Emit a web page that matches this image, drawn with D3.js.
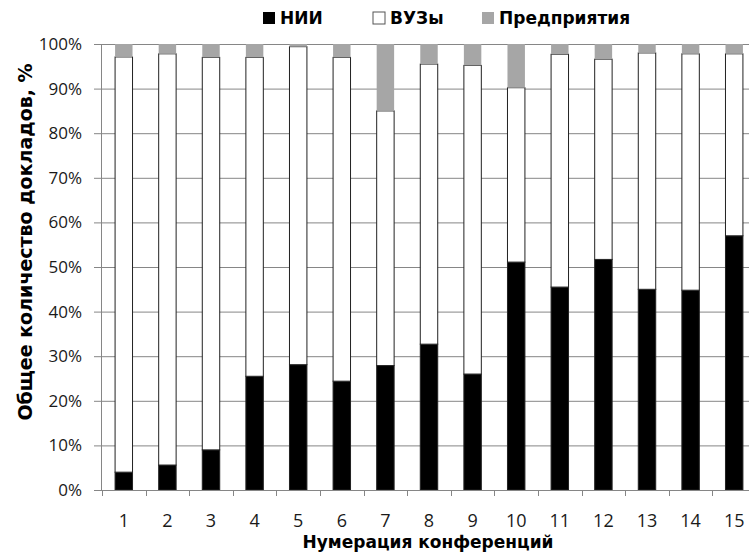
<!DOCTYPE html>
<html>
<head>
<meta charset="utf-8">
<script src="https://cdn.jsdelivr.net/npm/d3@7"></script>
<style>
  body { margin: 0; background: #fff; }
</style>
</head>
<body>
<script>
// conferences 1..15, shares in percent
var conferences = ["1","2","3","4","5","6","7","8","9","10","11","12","13","14","15"];
var nii   = [4.0, 5.6, 9.0, 25.5, 28.1, 24.4, 27.9, 32.7, 26.0, 51.1, 45.5, 51.7, 45.0, 44.8, 57.0];
var vuzy  = [93.1, 92.2, 88.0, 71.5, 71.3, 72.6, 57.1, 62.8, 69.2, 39.1, 52.2, 44.9, 53.0, 53.0, 40.8];
var predp = [2.9, 2.2, 3.0, 3.0, 0.6, 3.0, 15.0, 4.5, 4.8, 9.8, 2.3, 3.4, 2.0, 2.2, 2.2];
var seriesNames = ["НИИ", "ВУЗы", "Предприятия"];
var yTicks = [0, 10, 20, 30, 40, 50, 60, 70, 80, 90, 100];

var colors = ["#000000", "#ffffff", "#a6a6a6"];

var rows = conferences.map(function (c, i) {
    return {conf: c, "НИИ": nii[i], "ВУЗы": vuzy[i], "Предприятия": predp[i]};
});

var svg = d3.select("body")
    .append("svg")
    .attr("width", 749)
    .attr("height", 553);

var x = d3.scaleBand()
    .domain(conferences)
    .range([102, 756])
    .paddingInner(0.6)
    .paddingOuter(0.3);

var y = d3.scaleLinear()
    .domain([0, 100])
    .range([490, 44]);

// grid + y labels
var yAxis = d3.axisLeft(y)
    .tickValues(yTicks)
    .tickSize(-(749 - 94))
    .tickPadding(12)
    .tickFormat(function (d) { return d + "%"; });

var gy = svg.append("g")
    .attr("transform", "translate(94,0)")
    .call(yAxis);
gy.select(".domain").remove();
gy.selectAll(".tick line").attr("stroke", "#868686");
gy.selectAll(".tick text")
    .attr("fill", "#1a1a1a")
    .style("font-family", "'Open Sans', sans-serif")
    .style("font-size", "17px");

// y axis line
svg.append("line")
    .attr("x1", 101.5).attr("x2", 101.5)
    .attr("y1", y(100)).attr("y2", y(0))
    .attr("stroke", "#868686");

// stacked bars
var stack = d3.stack().keys(seriesNames);
var layers = stack(rows);

svg.selectAll("g.layer")
    .data(layers)
    .enter()
    .append("g")
    .attr("class", "layer")
    .attr("fill", function (d, i) { return colors[i]; })
    .attr("stroke", function (d, i) { return i === 2 ? "none" : "#222"; })
    .selectAll("rect")
    .data(function (d) { return d; })
    .enter()
    .append("rect")
    .attr("x", function (d) { return x(d.data.conf); })
    .attr("y", function (d) { return y(d[1]); })
    .attr("width", x.bandwidth())
    .attr("height", function (d) { return y(d[0]) - y(d[1]); })
    .attr("stroke-width", 1);

// x axis line and boundary ticks
svg.append("line")
    .attr("x1", 101.5).attr("x2", 749)
    .attr("y1", y(0) + 0.5).attr("y2", y(0) + 0.5)
    .attr("stroke", "#868686");

svg.selectAll("line.xtick")
    .data(d3.range(conferences.length + 1))
    .enter()
    .append("line")
    .attr("class", "xtick")
    .attr("x1", function (i) { return Math.round(x.range()[0] + i * x.step()) + 0.5; })
    .attr("x2", function (i) { return Math.round(x.range()[0] + i * x.step()) + 0.5; })
    .attr("y1", y(0))
    .attr("y2", y(0) + 6)
    .attr("stroke", "#868686");

var xAxis = d3.axisBottom(x).tickSize(0).tickPadding(24);
var gx = svg.append("g")
    .attr("transform", "translate(0," + y(0) + ")")
    .call(xAxis);
gx.select(".domain").remove();
gx.selectAll(".tick text")
    .attr("fill", "#1a1a1a")
    .style("font-family", "'Open Sans', sans-serif")
    .style("font-size", "18px");

// axis titles
svg.append("text")
    .attr("x", 428)
    .attr("y", 548)
    .style("text-anchor", "middle")
    .style("font-family", "'DejaVu Sans', sans-serif")
    .style("font-weight", "bold")
    .style("font-size", "17px")
    .attr("fill", "#000")
    .text("Нумерация конференций");

svg.append("text")
    .attr("transform", "translate(32,242) rotate(-90)")
    .style("text-anchor", "middle")
    .style("font-family", "'DejaVu Sans', sans-serif")
    .style("font-weight", "bold")
    .style("font-size", "19px")
    .attr("fill", "#000")
    .text("Общее количество докладов, %");

// legend
var legendX = [263, 373, 482];
var lg = svg.selectAll("g.legend")
    .data(seriesNames)
    .enter()
    .append("g")
    .attr("class", "legend")
    .attr("transform", function (d, i) { return "translate(" + legendX[i] + ",12)"; });

lg.append("rect")
    .attr("width", 12)
    .attr("height", 12)
    .attr("fill", function (d, i) { return colors[i]; })
    .attr("stroke", function (d, i) { return i === 1 ? "#555" : "none"; });

lg.append("text")
    .attr("x", 17)
    .attr("y", 12)
    .style("font-family", "'DejaVu Sans', sans-serif")
    .style("font-weight", "bold")
    .style("font-size", "17px")
    .attr("fill", "#000")
    .text(function (d) { return d; });
</script>
</body>
</html>
